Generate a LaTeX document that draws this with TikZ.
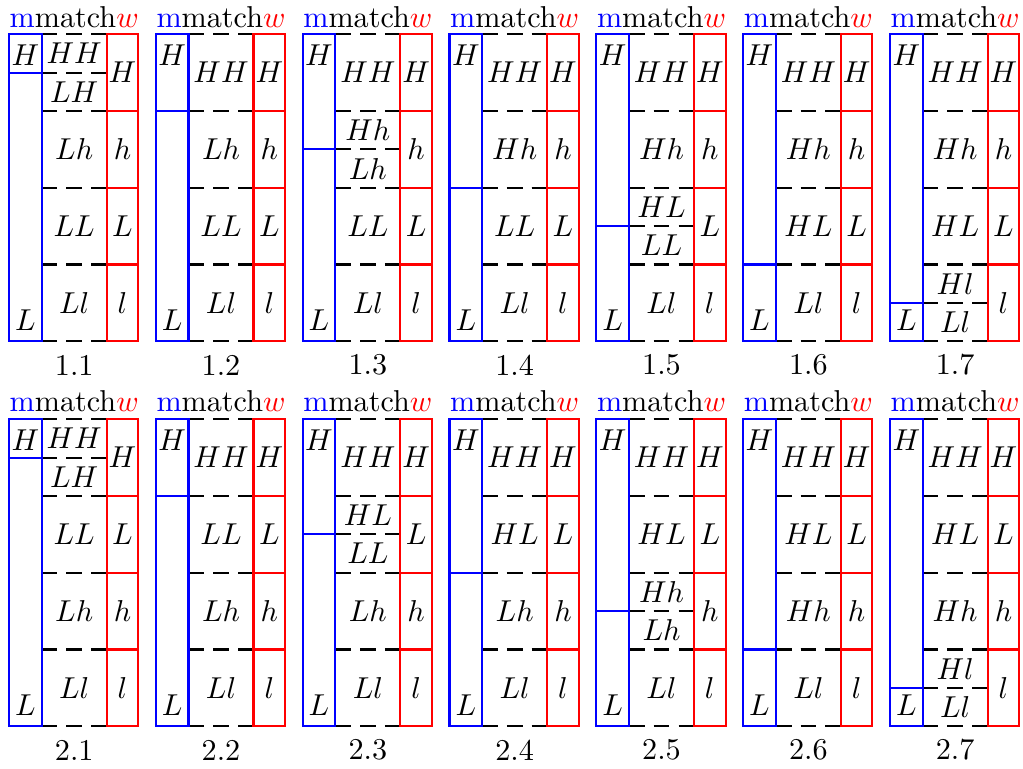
\documentclass[tikz,border=0pt]{standalone}
\usepackage{amsmath}
\usepackage{xcolor}
\usetikzlibrary{positioning}

\begin{document}
\begin{tikzpicture}[
  x=0.893cm, y=-0.893cm,
  bluecol/.style={draw=blue, line width=0.7pt},
  redcol/.style={draw=red, line width=0.7pt},
  sepline/.style={dash pattern=on 5.2pt off 3pt, line width=0.7pt},
  head/.style={anchor=base}
]
\useasboundingbox (0,0) rectangle (13.329,10.007);
% two sets of seven panels, the blue split moves down by half a row each time
\foreach \grp/\wfirst/\wsecond/\wthird/\wfourth in {1/H/h/L/l, 2/H/L/h/l} {
  \foreach \k in {1,...,7} {
    \pgfmathsetmacro\splitat{\k/2}
    \begin{scope}[shift={({0.117+1.913*(\k-1)},{0.447+5.016*(\grp-1)})}]
      % dashed rows of the middle column
      \foreach \y in {0,1,2,3,4,\splitat}
        \draw[sepline] (0.426,\y) -- (1.273,\y);
      % m column
      \draw[bluecol] (0,0) rectangle (0.426,4);
      \draw[bluecol] (0,\splitat) -- (0.426,\splitat);
      \node[anchor=north] (mh-\grp-\k) at (0.213,0) {$H$};
      \node[anchor=south] (ml-\grp-\k) at (0.213,4) {$L$};
      % w column
      \draw[redcol] (1.273,0) rectangle (1.685,4);
      \foreach \y in {1,2,3}
        \draw[redcol] (1.273,\y) -- (1.685,\y);
      \foreach \w [count=\i from 0] in {\wfirst,\wsecond,\wthird,\wfourth} {
        \node (w-\grp-\k-\i) at (1.479,\i+0.5) {$\w$};
        \pgfmathtruncatemacro\rowkind{\splitat >= \i+1 ? 0 : (\splitat <= \i ? 1 : 2)}
        \ifcase\rowkind
          \node (p-\grp-\k-\i) at (0.85,\i+0.5) {$H\w$};
        \or
          \node (p-\grp-\k-\i) at (0.85,\i+0.5) {$L\w$};
        \or
          \node (pa-\grp-\k-\i) at (0.85,\i+0.25) {$H\w$};
          \node (pb-\grp-\k-\i) at (0.85,\i+0.75) {$L\w$};
        \fi
      }
      \node[head] (t-\grp-\k) at (0.85,-0.095) {\textcolor{blue}{m}match\textcolor{red}{$w$}};
      \node (n-\grp-\k) at (0.85,4.31) {\grp.\k};
    \end{scope}
  }
}
\end{tikzpicture}
\end{document}
